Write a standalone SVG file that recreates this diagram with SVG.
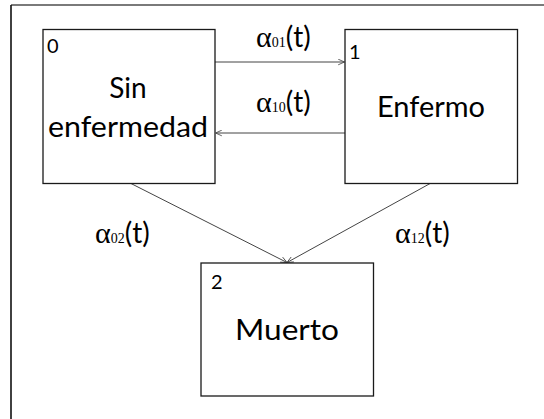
<svg xmlns="http://www.w3.org/2000/svg" width="544" height="419" viewBox="0 0 544 419">
  <style>
    .box { fill: #ffffff; stroke: #1a1a1a; stroke-width: 1.3; }
    .lbl { font-family: Lato, "Open Sans", sans-serif; font-size: 28px; fill: #000; }
    .num { font-family: Lato, "Open Sans", sans-serif; font-size: 20px; fill: #000; }
    .alpha { font-family: "Liberation Serif", "DejaVu Serif", serif; font-size: 30px; fill: #000; }
    .sub { font-family: "Liberation Serif", "DejaVu Serif", serif; font-size: 14px; fill: #000; }
    .par { font-family: Lato, "Open Sans", sans-serif; font-size: 28px; fill: #000; }
    .edge { fill: none; stroke: #444; stroke-width: 1; marker-end: url(#head); }
  </style>
  <defs>
    <marker id="head" viewBox="0 0 10 10" refX="10" refY="5" markerWidth="7" markerHeight="7" markerUnits="userSpaceOnUse" orient="auto">
      <path d="M1,1 L10,5 L1,9" fill="none" stroke="#444" stroke-width="1.2"/>
    </marker>
  </defs>

  <rect width="544" height="419" fill="#ffffff"/>

  <!-- frame -->
  <g id="frame">
    <line x1="11" y1="5" x2="544" y2="5" stroke="#7a7a7a" stroke-width="2"/>
    <line x1="11" y1="5" x2="11" y2="419" stroke="#111" stroke-width="1.6"/>
  </g>

  <!-- transitions -->
  <g id="connectors">
    <line class="edge" x1="215" y1="62" x2="344.5" y2="62"/>
    <line class="edge" x1="345" y1="133" x2="215.5" y2="133"/>
    <line class="edge" x1="130" y1="183" x2="287" y2="262.5"/>
    <line class="edge" x1="431" y1="183" x2="287" y2="262.5"/>
  </g>

  <g id="node0">
    <rect class="box" x="43" y="29.5" width="172" height="154"/>
    <text class="num" x="47" y="53">0</text>
    <text class="lbl" x="128" y="98" text-anchor="middle">Sin</text>
    <text class="lbl" x="128" y="137" text-anchor="middle" textLength="160" lengthAdjust="spacingAndGlyphs">enfermedad</text>
  </g>

  <g id="node1">
    <rect class="box" x="345" y="29.5" width="172.5" height="154"/>
    <text class="num" x="349" y="59">1</text>
    <text class="lbl" x="431" y="117" text-anchor="middle" textLength="108" lengthAdjust="spacingAndGlyphs">Enfermo</text>
  </g>

  <g id="node2">
    <rect class="box" x="201" y="263" width="172.5" height="133"/>
    <text class="num" x="211" y="289">2</text>
    <text class="lbl" x="287" y="340" text-anchor="middle" textLength="104" lengthAdjust="spacingAndGlyphs">Muerto</text>
  </g>

  <!-- rate labels -->
  <g id="rates">
    <text x="256" y="46.5"><tspan class="alpha">α</tspan><tspan class="sub">01</tspan><tspan class="par">(t)</tspan></text>
    <text x="256" y="111.5"><tspan class="alpha">α</tspan><tspan class="sub">10</tspan><tspan class="par">(t)</tspan></text>
    <text x="95" y="243"><tspan class="alpha">α</tspan><tspan class="sub">02</tspan><tspan class="par">(t)</tspan></text>
    <text x="395" y="243"><tspan class="alpha">α</tspan><tspan class="sub">12</tspan><tspan class="par">(t)</tspan></text>
  </g>
</svg>
